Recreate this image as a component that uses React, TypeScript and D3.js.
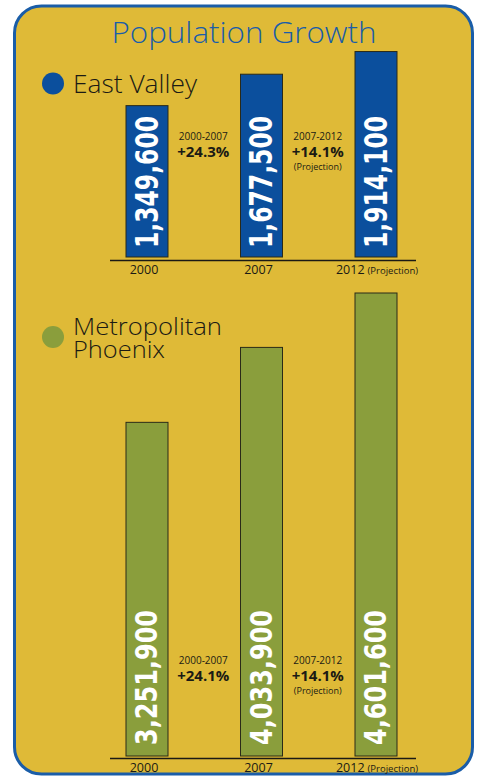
import { useEffect } from 'react';
import * as d3 from 'd3';

// chart data
const years = ['2000', '2007', '2012'];
const eastValley = [1349600, 1677500, 1914100];
const metroPhoenix = [3251900, 4033900, 4601600];
const changeRanges = ['2000-2007', '2007-2012'];
const eastChanges = ['+24.3%', '+14.1%'];
const metroChanges = ['+24.1%', '+14.1%'];
const projectedChange = [false, true];
const projectedYear = [false, false, true];

const W = 480;
const H = 777;

const GOLD = '#dfba37';
const BLUE = '#1a5da8';
const BAR_BLUE = '#0b4f9d';
const GREEN = '#8a9e3c';
const INK = '#1b1a14';

const SANS = '"Open Sans", "Noto Sans", sans-serif';
const NARROW = '"Liberation Sans Narrow", "DejaVu Sans Condensed", "Open Sans", sans-serif';

export default function App() {
  useEffect(() => {
    document.body.style.margin = '0';
    document.body.style.background = '#ffffff';
  }, []);

  // x positions of the bar centres
  const x = d3.scalePoint<string>().domain(years).range([147, 376]);
  const barW = 42;
  // shared height scale (the artwork's zero sits a little under the axis)
  const h = d3.scaleLinear().domain([-230000, 4601600]).range([0, 463]);

  const fmt = d3.format(',');

  const panel = (
    values: number[],
    changes: string[],
    base: number,
    axisY: number,
    fill: string,
    bold: boolean,
    annY: number
  ) => (
    <g>
      {values.map((v, i) => {
        const cx = x(years[i])!;
        const top = base - h(v);
        return (
          <g key={years[i]}>
            <rect
              x={cx - barW / 2}
              y={top}
              width={barW}
              height={base - top}
              fill={fill}
              stroke="#2a2a18"
              strokeWidth={1}
            />
            <text
              transform={`translate(${cx - 1},${base - (bold ? 9 : 11)}) rotate(-90)`}
              dy="0.36em"
              fill="#ffffff"
              fontFamily={NARROW}
              fontWeight={bold ? 700 : 600}
              fontSize={bold ? 32 : 31}
              textLength={bold ? 132 : 135}
              lengthAdjust="spacingAndGlyphs"
            >
              {fmt(v)}
            </text>
          </g>
        );
      })}
      {changes.map((c, i) => {
        const mx = (x(years[i])! + x(years[i + 1])!) / 2 - 1;
        return (
          <g key={c + i} textAnchor="middle" fill={INK} fontFamily={SANS}>
            <text x={mx} y={annY} fontSize={10}>
              {changeRanges[i]}
            </text>
            <text x={mx} y={annY + 17} fontSize={15} fontWeight={700}>
              {c}
            </text>
            {projectedChange[i] && (
              <text x={mx} y={annY + 29.5} fontSize={9}>
                (Projection)
              </text>
            )}
          </g>
        );
      })}
      <line x1={110} x2={416} y1={axisY} y2={axisY} stroke={INK} strokeWidth={1.5} />
      {years.map((yr, i) => (
        <text
          key={yr}
          x={x(yr)! + (projectedYear[i] ? 1 : -3)}
          y={axisY + 13.5}
          textAnchor="middle"
          fill={INK}
          fontFamily={SANS}
          fontSize={12.5}
        >
          {yr}
          {projectedYear[i] && (
            <tspan fontSize={9.5} dx={3}>
              (Projection)
            </tspan>
          )}
        </text>
      ))}
    </g>
  );

  return (
    <div style={{ position: 'absolute', left: 0, top: 0 }}>
      <svg width={W} height={H} viewBox={`0 0 ${W} ${H}`} style={{ display: 'block' }}>
        <rect x={0} y={0} width={W} height={H} fill="#ffffff" />
        <rect
          x={14.5}
          y={6}
          width={458}
          height={768}
          rx={27}
          ry={27}
          fill={GOLD}
          stroke={BLUE}
          strokeWidth={3}
        />
        <text
          x={244}
          y={43}
          textAnchor="middle"
          fill={BLUE}
          fontFamily={SANS}
          fontWeight={300}
          fontSize={30}
          textLength={265}
          lengthAdjust="spacingAndGlyphs"
        >
          Population Growth
        </text>

        <circle cx={53} cy={83.5} r={11} fill={BAR_BLUE} />
        <text x={73} y={93} fill={INK} fontFamily={SANS} fontWeight={300} fontSize={26} textLength={124} lengthAdjust="spacingAndGlyphs">
          East Valley
        </text>

        <circle cx={53} cy={337} r={11} fill={GREEN} />
        <text fill={INK} fontFamily={SANS} fontWeight={300} fontSize={24}>
          <tspan x={73} y={335} textLength={149} lengthAdjust="spacingAndGlyphs">
            Metropolitan
          </tspan>
          <tspan x={73} y={358} textLength={92} lengthAdjust="spacingAndGlyphs">
            Phoenix
          </tspan>
        </text>

        {panel(eastValley, eastChanges, 257, 260.5, BAR_BLUE, true, 140)}
        {panel(metroPhoenix, metroChanges, 756, 758.5, GREEN, false, 664)}
      </svg>
    </div>
  );
}
